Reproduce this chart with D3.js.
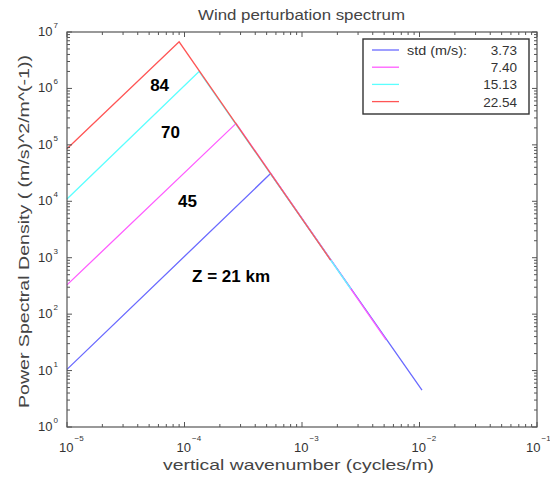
<!DOCTYPE html>
<html>
<head>
<meta charset="utf-8">
<script src="https://cdn.jsdelivr.net/npm/d3@7"></script>
<style>
  body { margin: 0; background: #fff; }
  text { font-family: "Liberation Sans", Arial, sans-serif; fill: #333; }
</style>
</head>
<body>
<script>
// series, in drawing order (red ends up on top of the shared falling line)
const seriesNames = ["3.73", "7.40", "15.13", "22.54"];
const seriesColors = ["#6a6aff", "#ff5cff", "#5cffff", "#ff5555"];
// each series: start at 1e-5, peak, end of the -3 tail
const blueX = [1e-5, 5.4e-4, 1.05e-2];
const blueY = [10.5, 3.1e4, 4.5];
const magentaX = [1e-5, 2.75e-4, 5.2e-3];
const magentaY = [330, 2.4e5, 35];
const cyanX = [1e-5, 1.33e-4, 2.6e-3];
const cyanY = [1.1e4, 2.0e6, 280];
const redX = [1e-5, 9e-5, 1.75e-3];
const redY = [8.5e4, 6.7e6, 910];
const seriesX = [blueX, magentaX, cyanX, redX];
const seriesY = [blueY, magentaY, cyanY, redY];

// altitude labels (left edge / vertical centre, in data units)
const labelText = ["84", "70", "45", "Z = 21 km"];
const labelX = [5.1e-5, 6.3e-5, 8.8e-5, 1.16e-4];
const labelY = [1.15e6, 1.7e5, 1.0e4, 470];

const xTickExp = [-5, -4, -3, -2, -1];
const yTickExp = [0, 1, 2, 3, 4, 5, 6, 7];

const W = 550, H = 477;
const margin = { top: 32, right: 13, bottom: 50, left: 67 };
const width = W - margin.left - margin.right;
const height = H - margin.top - margin.bottom;

const svg = d3.select("body").append("svg")
    .attr("width", W)
    .attr("height", H);

const g = svg.append("g")
    .attr("transform", `translate(${margin.left},${margin.top})`);

const x = d3.scaleLog().domain([1e-5, 1e-1]).range([0, width]);
const y = d3.scaleLog().domain([1, 1e7]).range([height, 0]);

// minor + major tick values
const minorX = [];
xTickExp.slice(0, -1).forEach(e => { for (let k = 2; k <= 9; k++) minorX.push(k * Math.pow(10, e)); });
const minorY = [];
yTickExp.slice(0, -1).forEach(e => { for (let k = 2; k <= 9; k++) minorY.push(k * Math.pow(10, e)); });
const majorX = xTickExp.map(e => Math.pow(10, e));
const majorY = yTickExp.map(e => Math.pow(10, e));

const axisColor = "#555";

// lines
const line = d3.line().x(d => x(d[0])).y(d => y(d[1]));
seriesX.forEach((xs, i) => {
    const pts = xs.map((v, j) => [v, seriesY[i][j]]);
    g.append("path")
        .attr("d", line(pts))
        .attr("fill", "none")
        .attr("stroke", seriesColors[i])
        .attr("stroke-width", 1.3);
});

// box
g.append("rect")
    .attr("width", width).attr("height", height)
    .attr("fill", "none").attr("stroke", axisColor).attr("stroke-width", 1.2);

// ticks on all four sides, pointing inward
const tickG = g.append("g").attr("stroke", axisColor).attr("stroke-width", 1);
function xTicks(vals, len) {
    vals.forEach(v => {
        tickG.append("line").attr("x1", x(v)).attr("x2", x(v)).attr("y1", height).attr("y2", height - len);
        tickG.append("line").attr("x1", x(v)).attr("x2", x(v)).attr("y1", 0).attr("y2", len);
    });
}
function yTicks(vals, len) {
    vals.forEach(v => {
        tickG.append("line").attr("y1", y(v)).attr("y2", y(v)).attr("x1", 0).attr("x2", len);
        tickG.append("line").attr("y1", y(v)).attr("y2", y(v)).attr("x1", width).attr("x2", width - len);
    });
}
xTicks(minorX, 3); xTicks(majorX, 5);
yTicks(minorY, 3); yTicks(majorY, 5);

// tick labels "10" with superscript (last one nudged in so it stays on the page)
xTickExp.forEach((e, i) => {
    const shift = i === xTickExp.length - 1 ? -11 : -8;
    const t = g.append("text")
        .attr("x", x(Math.pow(10, e)) + shift)
        .attr("y", height + 25)
        .style("font-size", "13px");
    t.append("tspan").text("10");
    t.append("tspan").attr("dx", 1).attr("dy", -11).style("font-size", "8px").text("\u2212" + Math.abs(e));
});
yTickExp.forEach(e => {
    const t = g.append("text")
        .attr("x", -29)
        .attr("y", y(Math.pow(10, e)) + 4)
        .style("font-size", "13px");
    t.append("tspan").text("10");
    t.append("tspan").attr("dx", 1).attr("dy", -8).style("font-size", "8px").text(e);
});

// title and axis labels
svg.append("text")
    .attr("x", 198).attr("y", 20)
    .attr("textLength", 207).attr("lengthAdjust", "spacingAndGlyphs")
    .style("font-size", "14px").style("fill", "#444")
    .text("Wind perturbation spectrum");
svg.append("text")
    .attr("x", 163).attr("y", 470)
    .attr("textLength", 271).attr("lengthAdjust", "spacingAndGlyphs")
    .style("font-size", "15px").style("fill", "#444")
    .text("vertical wavenumber (cycles/m)");
svg.append("text")
    .attr("transform", "translate(29,408) rotate(-90)")
    .attr("textLength", 353).attr("lengthAdjust", "spacingAndGlyphs")
    .style("font-size", "14px").style("fill", "#444")
    .text("Power Spectral Density ( (m/s)^2/m^(-1))");

// altitude annotations
labelText.forEach((s, i) => {
    g.append("text")
        .attr("x", x(labelX[i])).attr("y", y(labelY[i]))
        .attr("dy", "0.35em")
        .style("font-size", "17px").style("font-weight", "bold")
        .style("fill", "#000")
        .text(s);
});

// legend
const leg = svg.append("g").attr("transform", "translate(363,39)");
leg.append("rect").attr("width", 166).attr("height", 75)
    .attr("fill", "#fff").attr("stroke", "#333").attr("stroke-width", 1.4);
seriesNames.forEach((name, i) => {
    const ry = 11 + i * 17.2;
    leg.append("line").attr("x1", 9).attr("x2", 36).attr("y1", ry).attr("y2", ry)
        .attr("stroke", seriesColors[i]).attr("stroke-width", 1.3);
    leg.append("text").attr("x", 154).attr("y", ry + 5)
        .attr("text-anchor", "end").style("font-size", "13.5px")
        .text(name);
});
leg.append("text").attr("x", 44).attr("y", 16)
    .attr("textLength", 60).attr("lengthAdjust", "spacingAndGlyphs")
    .style("font-size", "13.5px").text("std (m/s):");
</script>
</body>
</html>
